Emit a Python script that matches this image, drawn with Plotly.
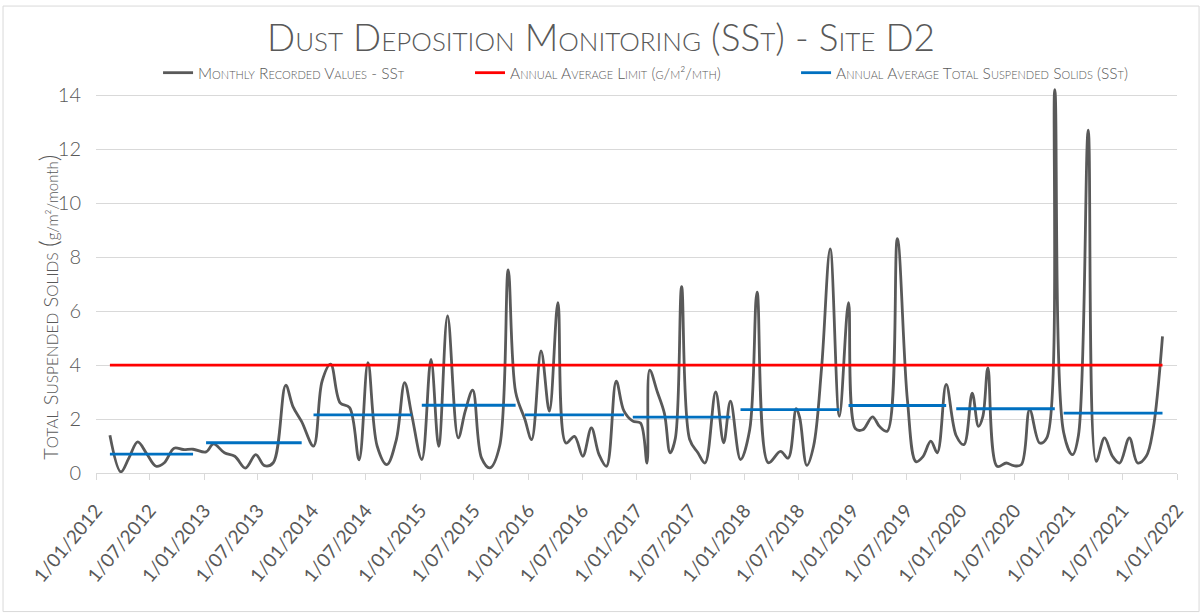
import plotly.graph_objects as go

# monthly SSt readings (sampling date, g/m2/month)
DATES = [
    "2012-02-17", "2012-03-25", "2012-04-21", "2012-05-21", "2012-06-20", "2012-07-22",
    "2012-08-19", "2012-09-21", "2012-10-22", "2012-11-24",
    "2013-01-07", "2013-02-01", "2013-03-10", "2013-04-14", "2013-05-20", "2013-06-24",
    "2013-07-23", "2013-08-22", "2013-10-03", "2013-10-28", "2013-11-26",
    "2014-01-05", "2014-02-03", "2014-03-04", "2014-04-05", "2014-05-07", "2014-06-08",
    "2014-07-08", "2014-08-08", "2014-09-10", "2014-10-12", "2014-11-09", "2014-12-03",
    "2015-01-06", "2015-02-06", "2015-03-04", "2015-04-03", "2015-05-09", "2015-06-02",
    "2015-06-27", "2015-07-27", "2015-08-24", "2015-09-26", "2015-10-25", "2015-11-19",
    "2015-12-20", "2016-01-12", "2016-02-13", "2016-03-12", "2016-04-10", "2016-05-07",
    "2016-06-05", "2016-07-03", "2016-08-01", "2016-08-27", "2016-09-21", "2016-10-24",
    "2016-11-19",
    "2016-12-19", "2017-01-14", "2017-02-05", "2017-02-14", "2017-03-12", "2017-04-05",
    "2017-04-24", "2017-05-12", "2017-06-02", "2017-06-29", "2017-07-27", "2017-08-20",
    "2017-09-25", "2017-10-22", "2017-11-14",
    "2017-12-18", "2018-01-18", "2018-02-12", "2018-03-22", "2018-05-02", "2018-05-28",
    "2018-06-24", "2018-07-06", "2018-07-30", "2018-08-22", "2018-09-18", "2018-10-17",
    "2018-11-17",
    "2018-12-18", "2019-01-10", "2019-02-04", "2019-03-09", "2019-04-02", "2019-04-28",
    "2019-06-01", "2019-07-05", "2019-08-03", "2019-08-26", "2019-09-22", "2019-10-14",
    "2019-11-13",
    "2019-12-17", "2020-01-12", "2020-02-09", "2020-03-01", "2020-03-16", "2020-04-02",
    "2020-05-03", "2020-06-03", "2020-06-28", "2020-07-24", "2020-08-21", "2020-09-24",
    "2020-10-18", "2020-11-14",
    "2020-12-14", "2021-01-13", "2021-02-02", "2021-03-07", "2021-04-03", "2021-05-01",
    "2021-05-28", "2021-06-21", "2021-07-24", "2021-08-21", "2021-09-19", "2021-10-12",
    "2021-11-13",
]
SST = [
    1.40, 0.04, 0.55, 1.15, 0.72, 0.25, 0.38, 0.92, 0.87, 0.88,
    0.78, 1.08, 0.75, 0.62, 0.18, 0.68, 0.27, 0.38, 3.25, 2.45, 1.90,
    1.00, 3.40, 4.03, 2.60, 2.42, 0.49, 4.09, 1.00, 0.31, 1.24, 3.35, 2.15,
    0.50, 4.21, 0.99, 5.82, 1.30, 2.30, 3.07, 0.55, 0.19, 1.00, 7.52, 3.00,
    2.00, 1.24, 4.52, 2.29, 6.31, 1.11, 1.36, 0.62, 1.67, 0.68, 0.25, 3.40, 2.30,
    1.92, 1.85, 0.37, 3.81, 3.00, 2.20, 0.75, 1.30, 6.90, 1.25, 0.75, 0.37, 3.00, 1.12, 2.66,
    0.50, 1.60, 6.70, 0.38, 0.80, 0.55, 2.38, 2.05, 0.28, 1.00, 3.90, 8.30, 2.10,
    6.31, 1.65, 1.60, 2.08, 1.72, 1.55, 8.68, 2.70, 0.42, 0.60, 1.18, 0.75, 3.28,
    1.38, 1.05, 2.96, 1.73, 2.10, 3.89, 0.25, 0.37, 0.27, 0.31, 2.35, 1.11, 1.30, 14.20,
    1.50, 0.68, 1.40, 12.70, 0.43, 1.30, 0.62, 0.37, 1.30, 0.37, 0.62, 1.60, 5.06,
]

# annual averages (monitoring year start / end, value)
AVG_START = ["2012-02-17", "2013-01-07", "2014-01-05", "2015-01-06", "2015-12-20",
             "2016-12-19", "2017-12-18", "2018-12-18", "2019-12-17", "2020-12-14"]
AVG_END = ["2012-11-24", "2013-11-26", "2014-12-03", "2015-11-19", "2016-11-19",
           "2017-11-14", "2018-11-17", "2019-11-13", "2020-11-14", "2021-11-13"]
AVG_VALUE = [0.70, 1.12, 2.15, 2.51, 2.15, 2.07, 2.35, 2.50, 2.38, 2.22]

LIMIT = 4.0

TEXT = "#595959"
GRID = "#D9D9D9"
FONT = "Lato, 'Open Sans', sans-serif"

fig = go.Figure()

fig.add_trace(go.Scatter(
    x=DATES, y=SST,
    mode="lines",
    line=dict(color="#595959", width=2.8, shape="spline", smoothing=1),
    name="Monthly Recorded Values - SSt",
    legend="legend",
    showlegend=True,
))

fig.add_trace(go.Scatter(
    x=[DATES[0], DATES[-1]], y=[LIMIT, LIMIT],
    mode="lines",
    line=dict(color="#FF0000", width=2.8),
    name="Annual Average Limit (g/m²/mth)",
    legend="legend2",
    showlegend=True,
))

#blue segments, one per monitoring year
bx, by = [], []
for s, e, v in zip(AVG_START, AVG_END, AVG_VALUE):
    bx += [s, e, None]
    by += [v, v, None]
fig.add_trace(go.Scatter(
    x=bx, y=by,
    mode="lines",
    line=dict(color="#0070C0", width=2.8),
    name="Annual Average Total Suspended Solids (SSt)",
    legend="legend3",
    showlegend=True,
))

def small_caps(word, small=15.5):
    return f"{word[0]}<span style='font-size:{small}px'>{word[1:].upper()}</span>"

ytitle = " ".join(small_caps(w) for w in ["Total", "Suspended", "Solids"])
ytitle += " <span style='font-size:26px'>(</span><span style='font-size:15px'>g/m²/month</span><span style='font-size:26px'>)</span>"

fig.add_annotation(
    xref="paper", yref="paper",
    x=-0.061, y=0.428,
    text=ytitle, textangle=-90,
    showarrow=False,
    font=dict(family=FONT, size=20, color=TEXT, weight=300),
)

#chart border
fig.add_shape(
    type="rect", xref="paper", yref="paper",
    x0=-0.086, x1=1.0204, y0=-0.359, y1=1.2097,
    line=dict(color=GRID, width=1),
)

#one legend box per entry so the three keys sit where the reference has them
def legend_box(x):
    return dict(
        orientation="h",
        x=x, xanchor="left",
        y=1.036, yanchor="middle",
        font=dict(family=FONT, size=15.5, color=TEXT, variant="small-caps", weight=300),
        bgcolor="rgba(0,0,0,0)",
    )

fig.update_layout(
    width=1203, height=616,
    margin=dict(l=96, r=26, t=87, b=143),
    paper_bgcolor="white",
    plot_bgcolor="white",
    font=dict(family=FONT, color=TEXT),
    showlegend=True,
    title=dict(
        text="Dust Deposition Monitoring (SSt) - Site D2",
        x=0.4996, xanchor="center",
        y=0.938, yanchor="middle",
        font=dict(family=FONT, size=37, color=TEXT, variant="small-caps", weight=300),
    ),
    legend=legend_box(0.0574),
    legend2=legend_box(0.3460),
    legend3=legend_box(0.6476),
    xaxis=dict(
        type="date",
        range=["2012-01-01", "2022-01-01"],
        tick0="2012-01-01", dtick="M6",
        tickformat="%-d/%m/%Y",
        tickangle=-50,
        tickfont=dict(family=FONT, size=19, color=TEXT),
        ticklabelstandoff=12,
        showgrid=False,
        showline=True, linecolor=GRID, linewidth=1,
        ticks="outside", ticklen=6, tickcolor=GRID,
        zeroline=False,
        automargin=False,
    ),
    yaxis=dict(
        range=[0, 14.3],
        tick0=0, dtick=2,
        showgrid=True, gridcolor=GRID, gridwidth=1,
        zeroline=False, showline=False,
        tickfont=dict(family=FONT, size=20, color=TEXT, weight=300),
        ticklabelstandoff=14,
        automargin=False,
    ),
)

#drop the default page margin so the figure sits at the window origin
fig.write_html(
    "out.html",
    config={"displayModeBar": False},
    post_script="document.body.style.margin='0px';",
)
